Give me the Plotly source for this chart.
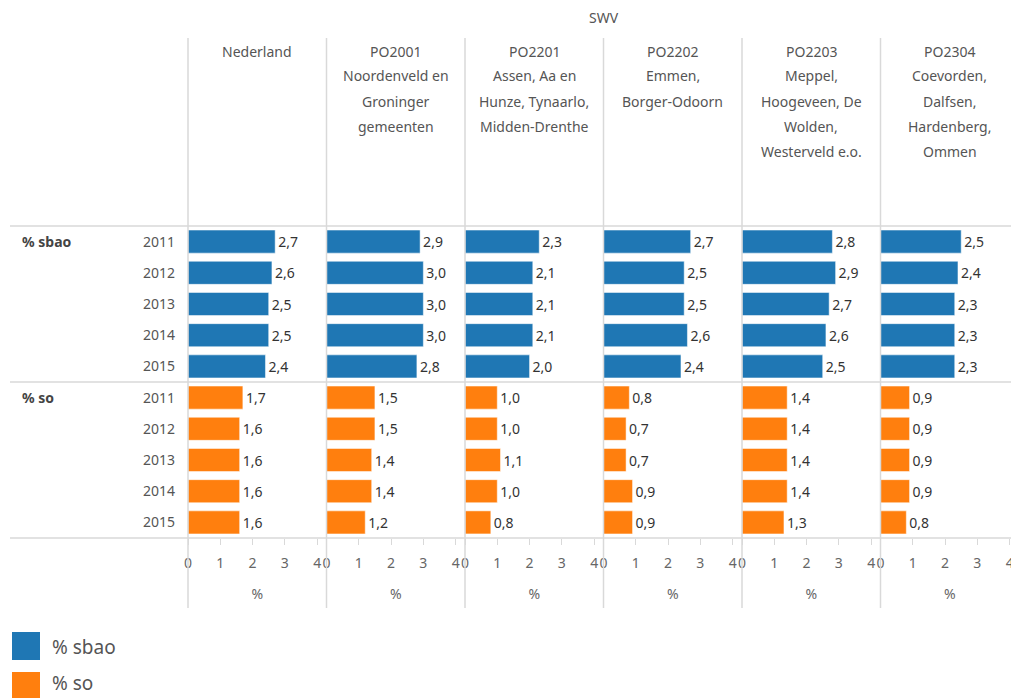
"""
Small-multiple bar chart: % sbao and % so per SWV region, 2011-2015.
"""

import plotly.graph_objects as go
from plotly.subplots import make_subplots

# --- data -------------------------------------------------------------
years = ['2011', '2012', '2013', '2014', '2015']
measures = ['% sbao', '% so']
region_headers = [
    ['Nederland'],
    ['PO2001', 'Noordenveld en', 'Groninger', 'gemeenten'],
    ['PO2201', 'Assen, Aa en', 'Hunze, Tynaarlo,', 'Midden-Drenthe'],
    ['PO2202', 'Emmen,', 'Borger-Odoorn'],
    ['PO2203', 'Meppel,', 'Hoogeveen, De', 'Wolden,', 'Westerveld e.o.'],
    ['PO2304', 'Coevorden,', 'Dalfsen,', 'Hardenberg,', 'Ommen'],
]
sbao = [
    [2.7, 2.6, 2.5, 2.5, 2.4],
    [2.9, 3.0, 3.0, 3.0, 2.8],
    [2.3, 2.1, 2.1, 2.1, 2.0],
    [2.7, 2.5, 2.5, 2.6, 2.4],
    [2.8, 2.9, 2.7, 2.6, 2.5],
    [2.5, 2.4, 2.3, 2.3, 2.3],
]
so = [
    [1.7, 1.6, 1.6, 1.6, 1.6],
    [1.5, 1.5, 1.4, 1.4, 1.2],
    [1.0, 1.0, 1.1, 1.0, 0.8],
    [0.8, 0.7, 0.7, 0.9, 0.9],
    [1.4, 1.4, 1.4, 1.4, 1.3],
    [0.9, 0.9, 0.9, 0.9, 0.8],
]
x_ticks = [0, 1, 2, 3, 4]

# --- layout constants (screen pixels) --------------------------------
W, H = 1019, 698
OFF = 8  # default page margin around the plot div
LEFT, TOP, BOTTOM = 188, 226, 538
BLUE, ORANGE = '#1f77b4', '#ff7f0e'
GRID = '#d9d9d9'
TXT = '#555555'
FONT = 'Noto Sans'


def px_x(x):
    return (x - LEFT) / (W - LEFT)


def px_y(y):
    return (BOTTOM - y) / (BOTTOM - TOP)


n = len(region_headers)
fig = make_subplots(rows=1, cols=n, shared_yaxes=True, horizontal_spacing=0)

sbao_pos = list(range(len(years)))
so_pos = [len(years) + i for i in range(len(years))]

for k in range(n):
    for vals, pos, color in [(sbao[k], sbao_pos, BLUE), (so[k], so_pos, ORANGE)]:
        fig.add_trace(go.Bar(
            x=vals,
            y=pos,
            orientation='h',
            width=0.74,
            marker=dict(color=color, line=dict(color='rgba(255,255,255,0.5)', width=1)),
            text=vals,
            texttemplate='%{x:.1f}',
            textposition='outside',
            textfont=dict(family=FONT, size=14, color='#333333'),
            cliponaxis=False,
            showlegend=False,
            hoverinfo='skip'
        ), row=1, col=k + 1)

    fig.update_xaxes(
        range=[0, 4.29],
        tickvals=x_ticks,
        ticks='outside', ticklen=6, tickcolor=GRID,
        ticklabelstandoff=6,
        tickfont=dict(family=FONT, size=14, color='#666666'),
        showgrid=False, zeroline=False, showline=False,
        title=dict(text='%', font=dict(family=FONT, size=14, color='#666666'), standoff=18),
        row=1, col=k + 1
    )

fig.update_yaxes(
    range=[len(years) * 2 - 0.5, -0.5],
    tickvals=sbao_pos + so_pos,
    ticktext=years + years,
    tickfont=dict(family=FONT, size=14, color=TXT),
    ticklabelstandoff=12,
    showgrid=False, zeroline=False, showline=False,
)

shapes = []
# vertical panel separators
for k in range(n):
    shapes.append(dict(type='line', xref='paper', yref='paper',
                       x0=k / n, x1=k / n, y0=px_y(38), y1=px_y(608),
                       line=dict(color=GRID, width=1.5)))
# horizontal row-group separators
for yp in [TOP, (TOP + BOTTOM) / 2, BOTTOM]:
    shapes.append(dict(type='line', xref='paper', yref='paper',
                       x0=px_x(10), x1=1, y0=px_y(yp), y1=px_y(yp),
                       line=dict(color=GRID, width=1.5)))
# legend swatches
for color, y0 in [(BLUE, 632), (ORANGE, 672)]:
    shapes.append(dict(type='rect', xref='paper', yref='paper',
                       x0=px_x(12), x1=px_x(40), y0=px_y(y0), y1=px_y(y0 + 28),
                       fillcolor=color, line=dict(width=0)))

annotations = [dict(text='SWV', xref='paper', yref='paper', x=0.5, y=px_y(18),
                    xanchor='center', yanchor='middle',
                    showarrow=False, font=dict(family=FONT, size=14, color=TXT))]
for k, lines in enumerate(region_headers):
    for i, line in enumerate(lines):
        annotations.append(dict(
            text=line, xref='paper', yref='paper',
            x=(k + 0.5) / n, y=px_y(51 + i * 25),
            xanchor='center', yanchor='middle',
            showarrow=False, font=dict(family=FONT, size=14, color=TXT)
        ))
for label, pos in [(measures[0], sbao_pos[0]), (measures[1], so_pos[0])]:
    annotations.append(dict(
        text='<b>' + label + '</b>', xref='paper', yref='y',
        x=px_x(20), y=pos, xanchor='left', yanchor='middle',
        showarrow=False, font=dict(family=FONT, size=14, color='#444444')
    ))
for label, yp in [(measures[0], 647), (measures[1], 683)]:
    annotations.append(dict(
        text=label, xref='paper', yref='paper',
        x=px_x(50), y=px_y(yp), xanchor='left', yanchor='middle',
        showarrow=False, font=dict(family=FONT, size=19, color=TXT)
    ))

fig.update_layout(
    width=W - OFF, height=H - OFF,
    margin=dict(l=LEFT - OFF, r=0, t=TOP - OFF, b=H - BOTTOM),
    plot_bgcolor='white', paper_bgcolor='white',
    separators=',.',
    shapes=shapes,
    annotations=annotations,
)

fig.write_html("out.html")
